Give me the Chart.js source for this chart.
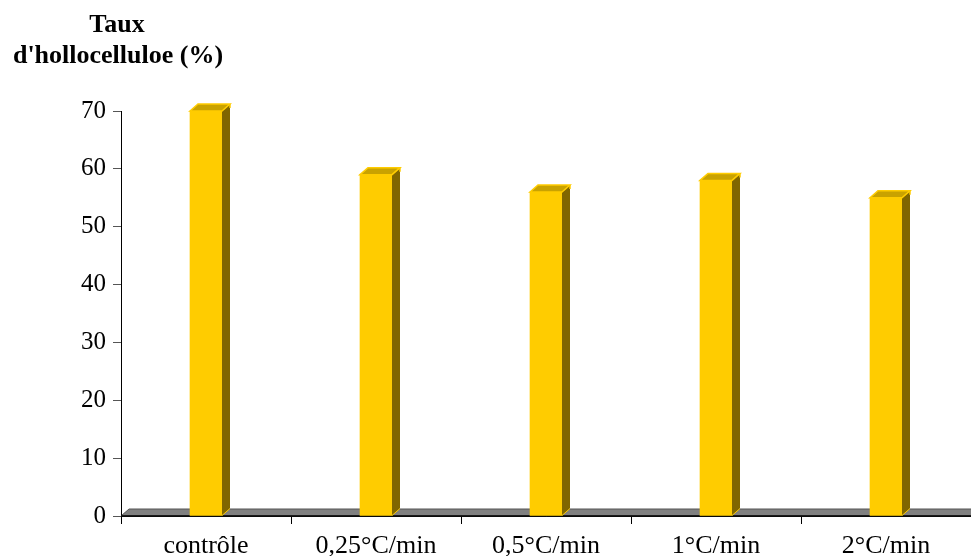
<!DOCTYPE html>
<html>
<head>
<meta charset="utf-8">
<script src="https://cdn.jsdelivr.net/npm/chart.js@4"></script>
<style>
  html, body { margin: 0; padding: 0; background: #ffffff; }
  #wrap { width: 971px; height: 556px; }
</style>
</head>
<body>
<div id="wrap"><canvas id="c" width="971" height="556"></canvas></div>
<script>
const categories = ['contrôle', '0,25°C/min', '0,5°C/min', '1°C/min', '2°C/min'];
const values = [70, 59, 56, 58, 55];
const yTicks = [0, 10, 20, 30, 40, 50, 60, 70];
const titleLines = ['Taux', "d'hollocelluloe (%)"];

const DX = 8, DY = 7;

const threeD = {
  id: 'threeD',
  beforeDatasetsDraw(chart) {
    const { ctx, chartArea } = chart;
    const b = chart.scales.y.getPixelForValue(0);
    ctx.save();
    ctx.beginPath();
    ctx.moveTo(chartArea.left, b);
    ctx.lineTo(chartArea.left + DX, b - DY);
    ctx.lineTo(chartArea.right + DX, b - DY);
    ctx.lineTo(chartArea.right, b);
    ctx.closePath();
    ctx.fillStyle = '#808080';
    ctx.fill();
    ctx.strokeStyle = '#555555';
    ctx.lineWidth = 1;
    ctx.stroke();
    ctx.beginPath();
    ctx.moveTo(chartArea.left, b);
    ctx.lineTo(chartArea.right + DX, b);
    ctx.strokeStyle = '#000000';
    ctx.lineWidth = 1.5;
    ctx.stroke();
    ctx.restore();
  },
  afterDatasetsDraw(chart) {
    const { ctx } = chart;
    const meta = chart.getDatasetMeta(0);
    ctx.save();
    meta.data.forEach(bar => {
      const p = bar.getProps(['x', 'y', 'base', 'width'], true);
      const l = p.x - p.width / 2, r = p.x + p.width / 2;
      ctx.beginPath();
      ctx.moveTo(r, p.y);
      ctx.lineTo(r + DX, p.y - DY);
      ctx.lineTo(r + DX, p.base - DY);
      ctx.lineTo(r, p.base);
      ctx.closePath();
      ctx.fillStyle = '#806600';
      ctx.fill();
      ctx.strokeStyle = '#FFCC00';
      ctx.lineWidth = 1;
      ctx.beginPath();
      ctx.moveTo(r, p.base);
      ctx.lineTo(r + DX, p.base - DY);
      ctx.stroke();
      ctx.beginPath();
      ctx.moveTo(l, p.y);
      ctx.lineTo(l + DX, p.y - DY);
      ctx.lineTo(r + DX, p.y - DY);
      ctx.lineTo(r, p.y);
      ctx.closePath();
      ctx.fillStyle = '#C9A200';
      ctx.fill();
      ctx.strokeStyle = '#FFCC00';
      ctx.lineWidth = 1.5;
      ctx.stroke();
      ctx.beginPath();
      ctx.moveTo(r + DX, p.y - DY);
      ctx.lineTo(r + DX, p.y - DY + 4);
      ctx.stroke();
    });
    ctx.restore();
  },
  afterDraw(chart) {
    const { ctx } = chart;
    ctx.save();
    ctx.fillStyle = '#000000';
    ctx.font = 'bold 26px "Liberation Serif", "Times New Roman", serif';
    ctx.textAlign = 'center';
    ctx.textBaseline = 'middle';
    ctx.fillText(titleLines[0], 117, 25);
    ctx.fillText(titleLines[1], 118, 56);
    ctx.restore();
  }
};

new Chart(document.getElementById('c'), {
  type: 'bar',
  data: {
    labels: categories,
    datasets: [{
      data: values,
      backgroundColor: '#FFCC00',
      borderWidth: 0,
      barThickness: 32
    }]
  },
  options: {
    responsive: false,
    animation: false,
    devicePixelRatio: 1,
    layout: { padding: { top: 111, right: -2, left: 0, bottom: 0 } },
    plugins: { legend: { display: false }, tooltip: { enabled: false }, title: { display: false } },
    scales: {
      x: {
        grid: { display: true, drawOnChartArea: false, offset: true, tickLength: 8, color: '#000000' },
        border: { display: true, color: '#000000', width: 1 },
        ticks: { color: '#000000', padding: 7, font: { family: '"Liberation Serif", "Times New Roman", serif', size: 26 } },
        afterFit(s) { s.height = 40; }
      },
      y: {
        min: 0, max: 70,
        afterBuildTicks(s) { s.ticks = yTicks.map(v => ({ value: v })); },
        grid: { display: true, drawOnChartArea: false, tickLength: 8, color: '#555555' },
        border: { display: true, color: '#000000', width: 1 },
        ticks: { color: '#000000', padding: 7, font: { family: '"Liberation Serif", "Times New Roman", serif', size: 25 } },
        afterFit(s) { s.width = 121; }
      }
    }
  },
  plugins: [threeD]
});
</script>
</body>
</html>
